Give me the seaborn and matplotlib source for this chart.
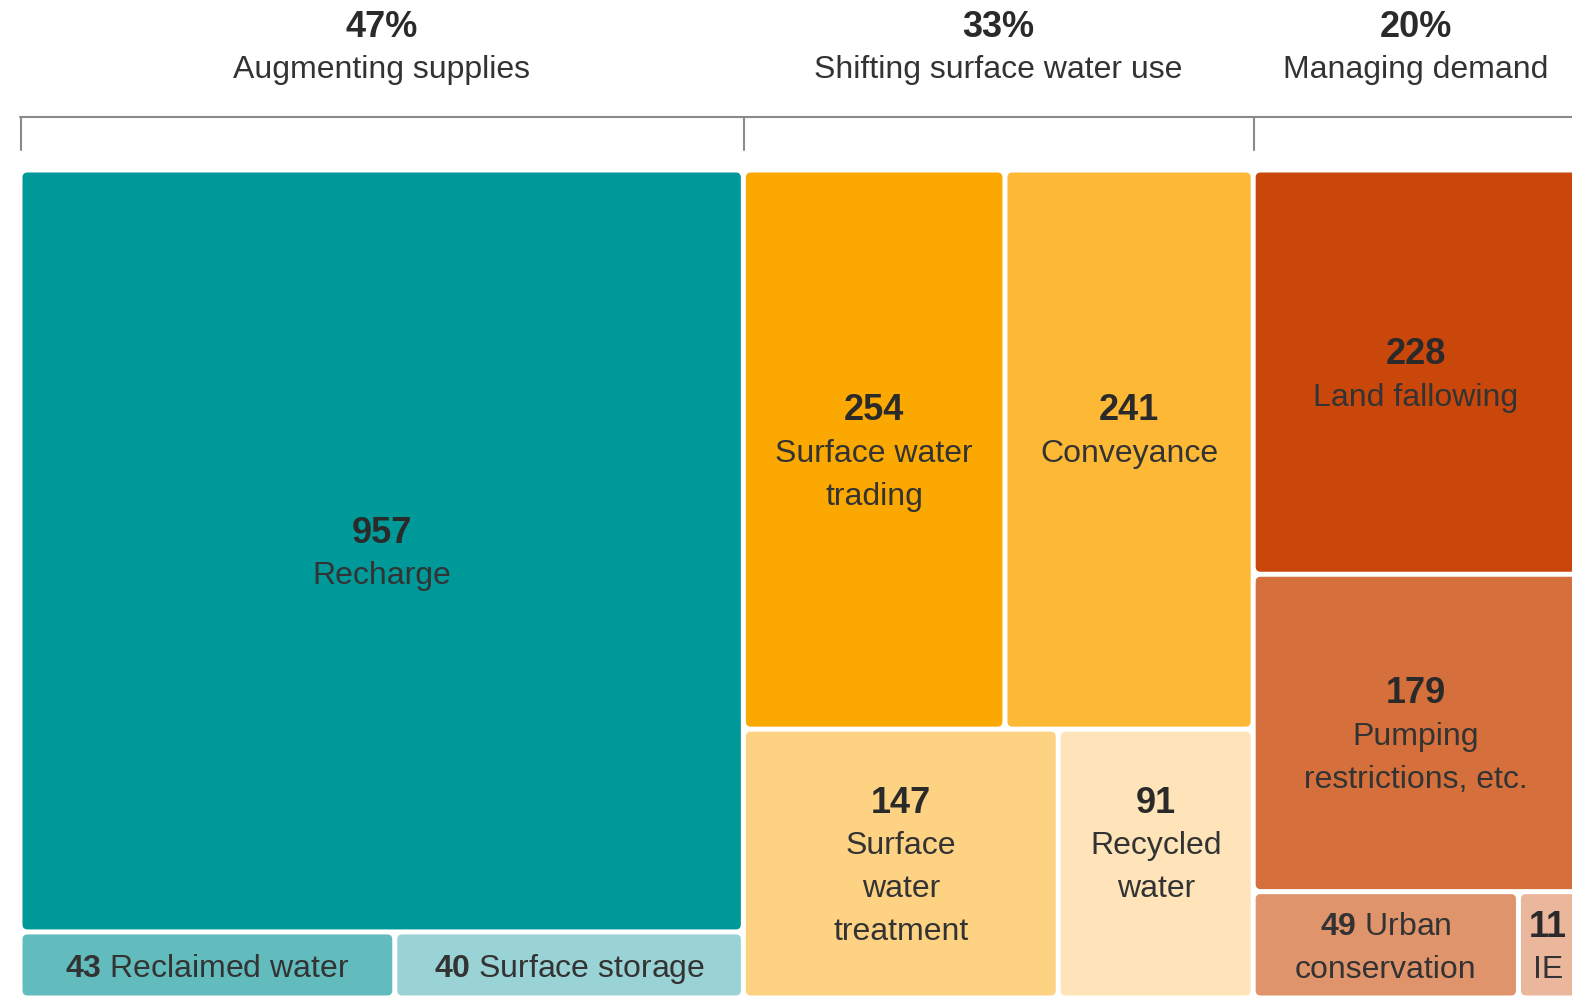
import matplotlib
matplotlib.use("Agg")
import matplotlib.pyplot as plt
from matplotlib.patches import FancyBboxPatch
import seaborn as sns

# data
groups = ["Augmenting supplies", "Shifting surface water use", "Managing demand"]
group_pcts = ["47%", "33%", "20%"]

aug_values = [957, 43, 40]
aug_names = ["Recharge", "Reclaimed water", "Surface storage"]
aug_rows = [[0], [1, 2]]

shift_values = [254, 241, 147, 91]
shift_names = ["Surface water\ntrading", "Conveyance", "Surface\nwater\ntreatment", "Recycled\nwater"]
shift_rows = [[0, 1], [2, 3]]

demand_values = [228, 179, 49, 11]
demand_names = ["Land fallowing", "Pumping\nrestrictions, etc.", "Urban\nconservation", "IE"]
demand_rows = [[0], [1], [2, 3]]

# label style per tile: number on its own line, or inline before the name
aug_inline = [False, True, True]
shift_inline = [False, False, False, False]
demand_inline = [False, False, True, False]

aug_colors = ["#009999", "#62bcbe", "#9ad3d5"]
shift_colors = ["#fba800", "#fdb935", "#fdd282", "#fee4b8"]
demand_colors = ["#c9470b", "#d5703c", "#e0946b", "#ebb79c"]

sns.set_theme(style="white")
plt.rcParams['font.family'] = ['Liberation Sans', 'DejaVu Sans']
plt.rcParams['mathtext.fontset'] = 'custom'
plt.rcParams['mathtext.rm'] = 'Liberation Sans'
plt.rcParams['mathtext.bf'] = 'Liberation Sans:bold'

W_PX, H_PX = 1572, 996
fig = plt.figure(figsize=(15.72, 9.96), dpi=100)
ax = fig.add_axes([0, 0, 1, 1])
ax.set_xlim(0, W_PX)
ax.set_ylim(H_PX, 0)
ax.axis("off")

x0, y0 = 20, 170          # treemap origin (px)
tw, th = 1558, 828        # treemap size (px)
gap = 2.5
pitch = 43
fs = 23
fs_bold = 26
txt = "#333333"

all_values = [aug_values, shift_values, demand_values]
all_names = [aug_names, shift_names, demand_names]
all_rows = [aug_rows, shift_rows, demand_rows]
all_inline = [aug_inline, shift_inline, demand_inline]
all_colors = [aug_colors, shift_colors, demand_colors]
total = sum(sum(v) for v in all_values)


def label_lines(value, name, inline):
    name_lines = name.split("\n")
    if inline:
        return [(r"$\mathbf{%d}$ %s" % (value, name_lines[0]), "normal")] + \
               [(l, "normal") for l in name_lines[1:]]
    return [(str(value), "bold")] + [(l, "normal") for l in name_lines]


gx = x0
for g, vals in enumerate(all_values):
    gsum = sum(vals)
    gw = tw * gsum / total
    # header above each group
    ax.text(gx + gw / 2, 27, group_pcts[g], ha="center", va="center", fontsize=fs_bold,
            fontweight="bold", color="#2a2a2a")
    ax.text(gx + gw / 2, 70, groups[g], ha="center", va="center", fontsize=fs, color=txt)
    ax.plot([gx + 1, gx + 1], [117, 150], color="#8a8a8a", lw=1.5)
    ax.plot([gx, gx + gw], [117, 117], color="#8a8a8a", lw=1.5)

    ry = y0
    for row in all_rows[g]:
        rsum = sum(vals[i] for i in row)
        rh = th * rsum / gsum
        # labels in one row share the same first line
        row_lines = [label_lines(vals[i], all_names[g][i], all_inline[g][i]) for i in row]
        nmax = max(len(l) for l in row_lines)
        top = ry + rh / 2 - (nmax - 1) / 2 * pitch + 4
        rx = gx
        for i, lines in zip(row, row_lines):
            iw = gw * vals[i] / rsum
            ax.add_patch(FancyBboxPatch((rx + gap, ry + gap), iw - 2 * gap, rh - 2 * gap,
                                        boxstyle="round,pad=0,rounding_size=5",
                                        facecolor=all_colors[g][i], edgecolor="none"))
            for k, (s, w) in enumerate(lines):
                bold = w == "bold"
                ax.text(rx + iw / 2, top + k * pitch, s, ha="center", va="center",
                        fontsize=fs_bold if bold else fs, fontweight=w,
                        color="#2a2a2a" if bold else txt)
            rx += iw
        ry += rh
    gx += gw

fig.savefig("out.png", dpi=100, facecolor="white")
